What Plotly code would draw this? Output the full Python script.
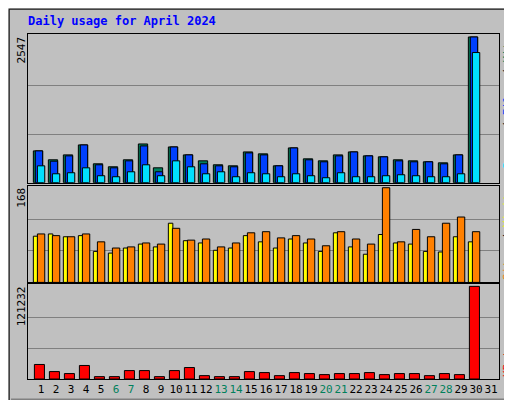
import plotly.graph_objects as go

# Daily usage for April 2024
days = list(range(1, 32))
hits = [556, 400, 486, 660, 330, 278, 400, 677, 260, 625, 486, 382, 313, 295, 538,
        504, 295, 608, 417, 382, 486, 538, 469, 452, 400, 382, 365, 347, 486, 2547, None]
files = [556, 376, 469, 660, 313, 260, 382, 643, 191, 625, 486, 330, 295, 278, 521,
         486, 295, 608, 400, 365, 469, 538, 469, 452, 382, 365, 365, 330, 486, 2547, None]
pages = [295, 156, 174, 260, 122, 104, 191, 313, 122, 382, 278, 156, 191, 104, 174,
         156, 104, 156, 122, 87, 174, 104, 104, 122, 139, 122, 104, 104, 156, 2275, None]
visits = [82, 86, 81, 83, 55, 52, 61, 68, 63, 105, 74, 70, 57, 61, 83,
          72, 61, 77, 70, 55, 88, 63, 50, 85, 70, 68, 55, 54, 81, 72, None]
sites = [86, 83, 81, 86, 72, 61, 63, 70, 68, 96, 75, 77, 63, 70, 88,
         90, 79, 83, 77, 65, 90, 77, 68, 168, 72, 94, 81, 105, 116, 90, None]
kbytes = [19000, 9700, 7100, 17700, 3100, 3100, 11000, 11000, 3100, 11000, 15000, 4400, 3100, 3100, 9700,
          8400, 4400, 8400, 7100, 5750, 7100, 7100, 8400, 5750, 7100, 7100, 4400, 7100, 5750, 121232, None]
weekend = [6, 7, 13, 14, 20, 21, 27, 28]

MONO = "DejaVu Sans Mono"
GRAY = "#c0c0c0"

fig = go.Figure()


def bar(y, color, offset, width, axis):
    fig.add_trace(go.Bar(
        x=days, y=y, offset=offset, width=width,
        marker=dict(color=color, line=dict(color="black", width=1)),
        xaxis="x" + axis, yaxis="y" + axis, showlegend=False, hoverinfo="x+y",
    ))


bar(hits, "#00805c", -0.51, 0.62, "")
bar(files, "#0040ff", -0.38, 0.49, "")
bar(pages, "#00e0ff", -0.24, 0.49, "")
bar(visits, "#ffff00", -0.51, 0.3, "2")
bar(sites, "#ff8000", -0.24, 0.49, "2")
bar(kbytes, "#ff0000", -0.44, 0.67, "3")

xr = [1 - 13 / 15, 31 + 8 / 15]
ticktext = [f"<span style='color:#00805c'>{d}</span>" if d in weekend else str(d) for d in days]
xbase = dict(range=xr, showgrid=False, zeroline=False, fixedrange=True,
             showline=True, linecolor="black", mirror=True, ticks="")
fig.update_layout(
    xaxis=dict(**xbase, anchor="y", showticklabels=False),
    xaxis2=dict(**xbase, anchor="y2", showticklabels=False),
    xaxis3=dict(**xbase, anchor="y3", tickvals=days, ticktext=ticktext, tickangle=0,
                tickfont=dict(family=MONO, size=11, color="black")),
)


def yaxis(top, domain):
    return dict(domain=domain, range=[0, top / 0.98], tickvals=[top / 3, 2 * top / 3],
                showticklabels=False, gridcolor="#808080", gridwidth=1, zeroline=False,
                showline=True, linecolor="black", mirror=True, fixedrange=True)


fig.update_layout(
    yaxis=yaxis(max(hits[:-1]), [0.569, 1]),
    yaxis2=yaxis(max(sites[:-1]), [0.28, 0.56]),
    yaxis3=yaxis(max(kbytes[:-1]), [0, 0.274]),
    barmode="overlay",
    width=512, height=400,
    margin=dict(l=20, r=21, t=26, b=24),
    paper_bgcolor=GRAY, plot_bgcolor=GRAY,
    font=dict(family=MONO, size=11, color="black"),
)

ann = [
    dict(x=-0.004, y=1.037, text="<b>Daily usage for April 2024</b>",
         font=dict(color="#0000ff", size=12), xanchor="left", yanchor="middle"),
    dict(x=-0.013, y=1.0, text=str(max(hits[:-1])), yanchor="top"),
    dict(x=-0.013, y=0.56, text=str(max(sites[:-1])), yanchor="top"),
    dict(x=-0.013, y=0.274, text=str(max(kbytes[:-1])), yanchor="top"),
    dict(x=1.017, y=1.0, yanchor="top", text="<span style='color:#00e0ff'>Pages</span> / "
         "<span style='color:#0040ff'>Files</span> / <span style='color:#00805c'>Hits</span>"),
    dict(x=1.017, y=0.56, yanchor="top", text="<span style='color:#ff8000'>Sites</span> / "
         "<span style='color:#ffff00'>Visits</span>"),
    dict(x=1.017, y=0.0, yanchor="bottom", text="<span style='color:#ff0000'>KBytes</span>"),
]
for i, a in enumerate(ann):
    if i > 0:
        a.update(textangle=-90, font=dict(size=11), xanchor="center")
    fig.add_annotation(showarrow=False, xref="paper", yref="paper", **a)

# 3D frame of the image
fig.add_shape(type="rect", xref="paper", yref="paper", x0=-0.04, x1=1.04, y0=-0.066, y1=1.072,
              line=dict(color="black", width=1), layer="below")
fig.add_shape(type="line", xref="paper", yref="paper", x0=-0.036, x1=1.036, y0=-0.061, y1=-0.061,
              line=dict(color="#808080", width=3))
fig.add_shape(type="line", xref="paper", yref="paper", x0=1.036, x1=1.036, y0=-0.061, y1=1.068,
              line=dict(color="#808080", width=3))

fig.write_html("out.html")
